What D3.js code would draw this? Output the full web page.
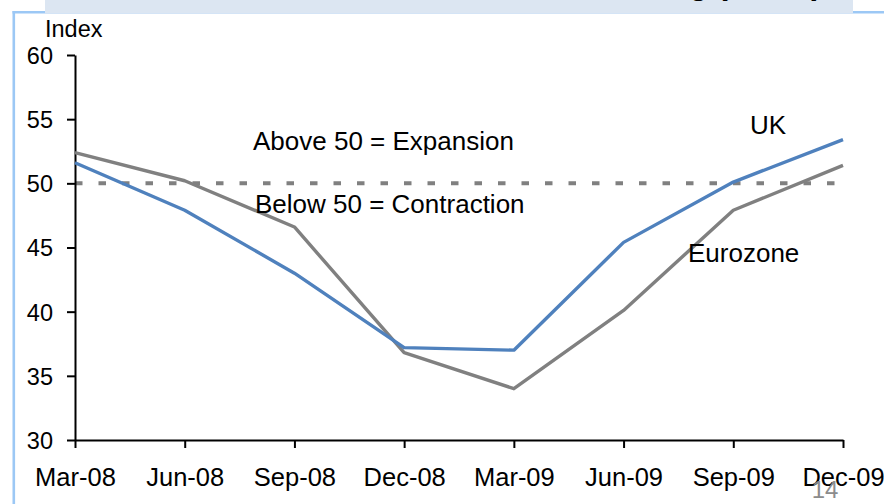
<!DOCTYPE html>
<html><head><meta charset="utf-8">
<script src="https://cdn.jsdelivr.net/npm/d3@7"></script>
<style>
html,body{margin:0;padding:0;background:#fff;}
svg{display:block;font-family:"Liberation Sans",Arial,sans-serif;}
</style></head>
<body>
<svg id="c" width="884" height="504"></svg>
<script>
const categories = ["Mar-08","Jun-08","Sep-08","Dec-08","Mar-09","Jun-09","Sep-09","Dec-09"];
const ukValues = [51.6, 47.9, 43.0, 37.2, 37.0, 45.4, 50.1, 53.4];
const eurozoneValues = [52.4, 50.2, 46.6, 36.8, 34.0, 40.1, 47.9, 51.4];
const yTicks = [30, 35, 40, 45, 50, 55, 60];
const threshold = 50;
const titleText = "PMI Manufacturing (Index)";

const svg = d3.select("#c");

// slide frame
svg.append("rect").attr("x",12.5).attr("y",11).attr("width",2.6).attr("height",493).attr("fill","#9cc8f5");
svg.append("rect").attr("x",12.5).attr("y",11).attr("width",872).attr("height",2.5).attr("fill","#9cc8f5");
svg.append("rect").attr("x",45).attr("y",0).attr("width",808).attr("height",13.5).attr("fill","#dce6f2");
svg.append("text").attr("x",822).attr("y",-6).attr("text-anchor","end")
  .attr("font-size",32).attr("font-weight","bold").attr("fill","#000").text(titleText);

const x = d3.scalePoint().domain(categories).range([75, 843]);
const y = d3.scaleLinear().domain([30, 60]).range([440, 55]);

// threshold dotted line
svg.append("line").attr("x1",x(categories[0])).attr("x2",x(categories[categories.length-1]))
  .attr("y1",y(threshold)).attr("y2",y(threshold))
  .attr("stroke","#808080").attr("stroke-width",4).attr("stroke-dasharray","7.5,16");

// axes
const yAxis = svg.append("g").attr("transform","translate(75,0)")
  .call(d3.axisLeft(y).tickValues(yTicks).tickSize(8).tickSizeOuter(0).tickPadding(14));
yAxis.selectAll("text").attr("font-size",23.5).attr("fill","#000").attr("dy","0.36em")
  .attr("font-family","Liberation Sans, Arial, sans-serif");
const xAxis = svg.append("g").attr("transform","translate(0,440)")
  .call(d3.axisBottom(x).tickSize(8).tickSizeOuter(0));
xAxis.selectAll("text").attr("font-size",25.5).attr("fill","#000").attr("y",46).attr("dy",0)
  .attr("font-family","Liberation Sans, Arial, sans-serif");
svg.selectAll(".domain, .tick line").attr("stroke","#000").attr("stroke-width",2);

// series
const line = d3.line().x((d,i)=>x(categories[i])).y(d=>y(d));
svg.append("path").datum(eurozoneValues).attr("d",line).attr("fill","none")
  .attr("stroke","#808080").attr("stroke-width",3.4).attr("stroke-linejoin","round");
svg.append("path").datum(ukValues).attr("d",line).attr("fill","none")
  .attr("stroke","#4f81bd").attr("stroke-width",3.4).attr("stroke-linejoin","round");

// texts
svg.append("text").attr("x",45).attr("y",37).attr("font-size",23.5).text("Index");
svg.append("text").attr("x",253).attr("y",150).attr("font-size",26).text("Above 50 = Expansion");
svg.append("text").attr("x",255).attr("y",213).attr("font-size",26).text("Below 50 = Contraction");
svg.append("text").attr("x",750).attr("y",134).attr("font-size",26).text("UK");
svg.append("text").attr("x",688).attr("y",262).attr("font-size",26).text("Eurozone");
svg.append("text").attr("x",825).attr("y",498).attr("text-anchor","middle").attr("font-size",24)
  .attr("fill","#8c8c8c").text("14");
</script>
</body></html>
